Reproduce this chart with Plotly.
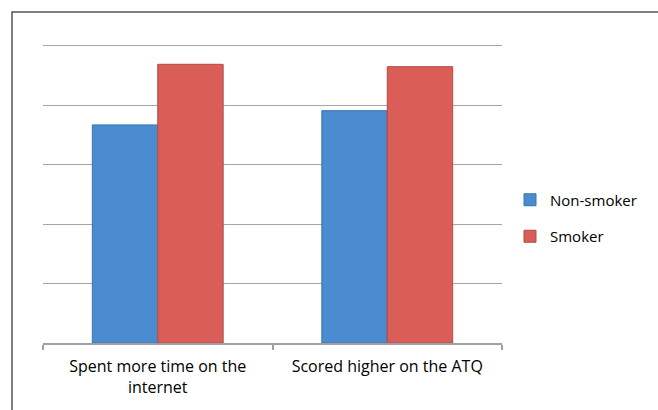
import plotly.graph_objects as go

# Survey comparison: share of respondents per group (gridline units)
categories = ["Spent more time on the<br>internet", "Scored higher on the ATQ"]
non_smoker = [3.67, 3.91]
smoker = [4.69, 4.65]

W, H = 658, 410
ML, MR, MT, MB = 43, 156, 34, 67
plot_w = W - ML - MR
plot_h = H - MT - MB

fig = go.Figure()
fig.add_trace(go.Bar(
    x=categories, y=non_smoker, name="Non-smoker", legendgroup="a",
    marker=dict(color="#4A8CCF", line=dict(color="#3A74AE", width=1)),
))
fig.add_trace(go.Bar(
    x=categories, y=smoker, name="Smoker", legendgroup="b",
    marker=dict(color="#DA5D58", line=dict(color="#B34A46", width=1)),
))

# Outer chart frame (open at right/bottom where it runs past the page)
def px_to_paper_x(px):
    return (px - ML) / plot_w

def px_to_paper_y(py):
    return (H - MB - py) / plot_h

fig.add_shape(
    type="rect", xref="paper", yref="paper",
    x0=px_to_paper_x(12), x1=px_to_paper_x(W + 20),
    y0=px_to_paper_y(H + 20), y1=px_to_paper_y(12),
    line=dict(color="#555555", width=1.5), fillcolor="rgba(0,0,0,0)",
    layer="below",
)

fig.update_layout(
    width=W, height=H,
    margin=dict(l=ML, r=MR, t=MT, b=MB, autoexpand=False),
    paper_bgcolor="white", plot_bgcolor="white",
    barmode="group", bargap=0.43, bargroupgap=0,
    font=dict(family="Open Sans, Liberation Sans, sans-serif", size=15, color="#000000"),
    showlegend=True,
    legend=dict(
        x=px_to_paper_x(510), xanchor="left",
        y=px_to_paper_y(218), yanchor="middle",
        tracegroupgap=14, font=dict(size=15),
        itemwidth=30,
        bgcolor="rgba(0,0,0,0)",
    ),
    xaxis=dict(
        showgrid=False, showline=True, linecolor="#A0A0A0", linewidth=1.5,
        ticks="outside", tickson="boundaries", ticklen=5, tickcolor="#A0A0A0",
        tickwidth=1.5, tickfont=dict(size=16), ticklabelstandoff=8,
    ),
    yaxis=dict(
        range=[0, 5.2], dtick=1, showticklabels=False, showgrid=True,
        gridcolor="#A6A6A6", gridwidth=1.2, zeroline=False, showline=False,
        ticks="",
    ),
)

fig.write_html("out.html")
